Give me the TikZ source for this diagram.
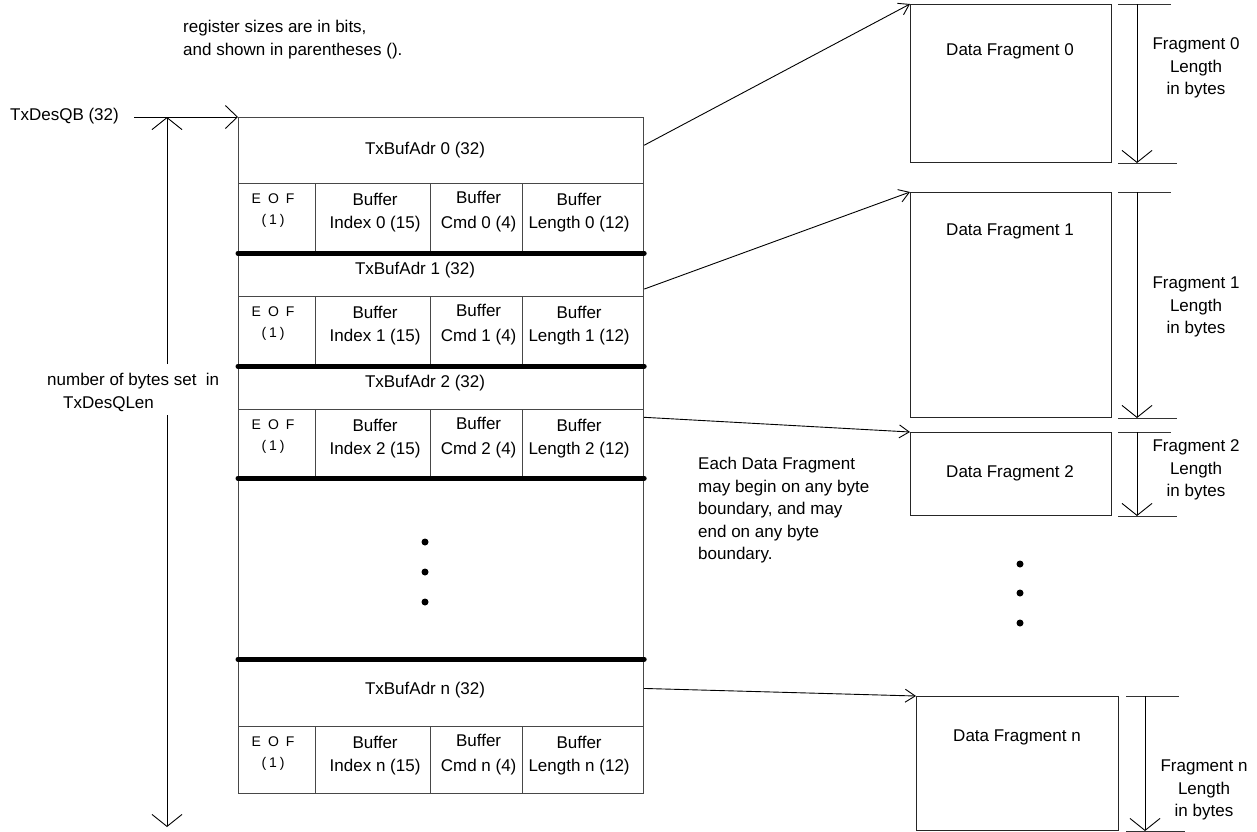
\documentclass[tikz,border=0pt]{standalone}
\usepackage{fontspec}
\setmainfont{Liberation Sans}
\usetikzlibrary{arrows.meta,calc}
\begin{document}
\begin{tikzpicture}[x=1pt,y=-1pt,
  txt/.style={inner sep=0pt, font=\fontsize{17}{22.5}\selectfont},
  eoftxt/.style={inner sep=0pt, font=\fontsize{14}{21}\selectfont, align=center},
  cell/.style={draw=black!72, line width=1.2pt, inner sep=0pt, anchor=north west},
  frag/.style={draw=black!85, line width=1pt, inner sep=0pt, anchor=north west},
  ln/.style={draw=black, line width=0.9pt},
  sepline/.style={line width=5pt, line cap=round},
  bigtip/.style={-{Straight Barb[length=12pt,width=30pt]}},
  smalltip/.style={-{Straight Barb[length=10pt,width=13pt]}},
  midtip/.style={-{Straight Barb[length=12pt,width=23pt]}}
]
\useasboundingbox (0,0) rectangle (1257,831);

% note
\node[txt, align=left, anchor=north west] (note) at (183,20) {register sizes are in bits,\\and shown in parentheses ().};

% table rows
\node[cell, minimum width=405pt, minimum height=66pt] (adr0) at (238,117) {};
\node[cell, minimum width=405pt, minimum height=44pt] (adr1) at (238,252) {};
\node[cell, minimum width=405pt, minimum height=44pt] (adr2) at (238,365) {};
\node[cell, minimum width=405pt, minimum height=181pt] (gap) at (238,477) {};
\node[cell, minimum width=405pt, minimum height=68pt] (adrn) at (238,658) {};
\node[txt] (adr0t) at (425,150) {TxBufAdr 0 (32)};
\node[txt] (adr1t) at (415,270) {TxBufAdr 1 (32)};
\node[txt] (adr2t) at (425,383) {TxBufAdr 2 (32)};
\node[txt] (adrnt) at (425,690) {TxBufAdr n (32)};

\foreach \i/\t/\h in {0/183/69, 1/296/69, 2/409/68, n/726/67} {
  \node[cell, minimum width=77pt, minimum height=\h pt] (fe\i) at (238,\t) {};
  \node[cell, minimum width=115pt, minimum height=\h pt] (fi\i) at (315,\t) {};
  \node[cell, minimum width=92pt, minimum height=\h pt] (fc\i) at (430,\t) {};
  \node[cell, minimum width=121pt, minimum height=\h pt] (fl\i) at (522,\t) {};
  \node[eoftxt, anchor=north] (fet\i) at ($(fe\i.north)+(-4,11)$) {E\hspace{7pt}O\hspace{7pt}F\\(\hspace{3pt}1\hspace{3pt})};
  \node[txt, align=center, anchor=north] (fit\i) at ($(fi\i.north)+(2,10)$) {Buffer\\Index \i\ (15)};
  \node[txt, align=center, anchor=north, font=\fontsize{17}{25}\selectfont] (fct\i) at ($(fc\i.north)+(2,7.5)$) {Buffer\\Cmd \i\ (4)};
  \node[txt, align=center, anchor=north] (flt\i) at ($(fl\i.north)+(-4,10)$) {Buffer\\Length \i\ (12)};
}

% thick separators
\draw[sepline] (fe0.south west) -- (fl0.south east);
\draw[sepline] (fe1.south west) -- (fl1.south east);
\draw[sepline] (fe2.south west) -- (fl2.south east);
\draw[sepline] (gap.south west) -- (gap.south east);

% dots in table
\foreach \y in {542,572,602} \fill (425,\y) circle (3.5pt);

% TxDesQB pointer
\node[txt, anchor=west] (qb32) at (10,116) {TxDesQB (32)};
\coordinate (hl) at (134,117);
\draw[ln, midtip] (hl) -- (adr0.north west);

% queue length arrow
\coordinate (qt) at (167,117);
\coordinate (qg1) at (167,364);
\coordinate (qg2) at (167,415);
\coordinate (qb) at (167,827);
\node[txt, align=left, anchor=north west] (qlen) at (47,373) {number of bytes set\ \ in\\\hspace{16pt}TxDesQLen};
\draw[ln, bigtip] (qg1) -- (qt);
\draw[ln, bigtip] (qg2) -- (qb);

% fragments
\node[frag, minimum width=201pt, minimum height=158pt] (f0) at (910,4) {};
\node[frag, minimum width=201pt, minimum height=225pt] (f1) at (910,192) {};
\node[frag, minimum width=201pt, minimum height=83pt] (f2) at (910,432) {};
\node[frag, minimum width=202pt, minimum height=134pt] (fn) at (916,696) {};
\node[txt] (f0t) at (1010,51) {Data Fragment 0};
\node[txt] (f1t) at (1010,231) {Data Fragment 1};
\node[txt] (f2t) at (1010,473) {Data Fragment 2};
\node[txt] (fnt) at (1017,737) {Data Fragment n};

% pointers to fragments
\draw[ln, smalltip] ($(adr0.north east)!0.42!(adr0.south east)$) -- (f0.north west);
\draw[ln, smalltip] ($(adr1.north east)!0.82!(adr1.south east)$) -- (f1.north west);
\draw[ln, smalltip] ($(fl2.north east)!0.12!(fl2.south east)$) -- (f2.north west);
\draw[ln, smalltip] ($(adrn.north east)!0.44!(adrn.south east)$) -- (fn.north west);

% length dimensions
\foreach \k/\ax/\lx/\ly in {0/1137/1196/68, 1/1137/1196/307, 2/1137/1196/470, n/1145/1204/790} {
  \coordinate (dt\k) at (f\k.north -| \ax,0);
  \coordinate (db\k) at (f\k.south -| \ax,0);
  \draw[ln, draw=black!80] ([xshift=-19pt]dt\k) -- ([xshift=34pt]dt\k);
  \draw[ln, draw=black!80] ([xshift=-19pt]db\k) -- ([xshift=40pt]db\k);
  \draw[ln, bigtip] (dt\k) -- (db\k);
  \node[txt, align=center] (dl\k) at (\lx,\ly) {Fragment \k\\Length\\in bytes};
}

% note on fragments
\node[txt, align=left, anchor=north west] (note2) at (698,457) {Each Data Fragment\\may begin on any byte\\boundary, and may\\end on any byte\\boundary.};

% dots between fragments
\foreach \y in {564,593,623} \fill (1020,\y) circle (3.5pt);
\end{tikzpicture}
\end{document}
